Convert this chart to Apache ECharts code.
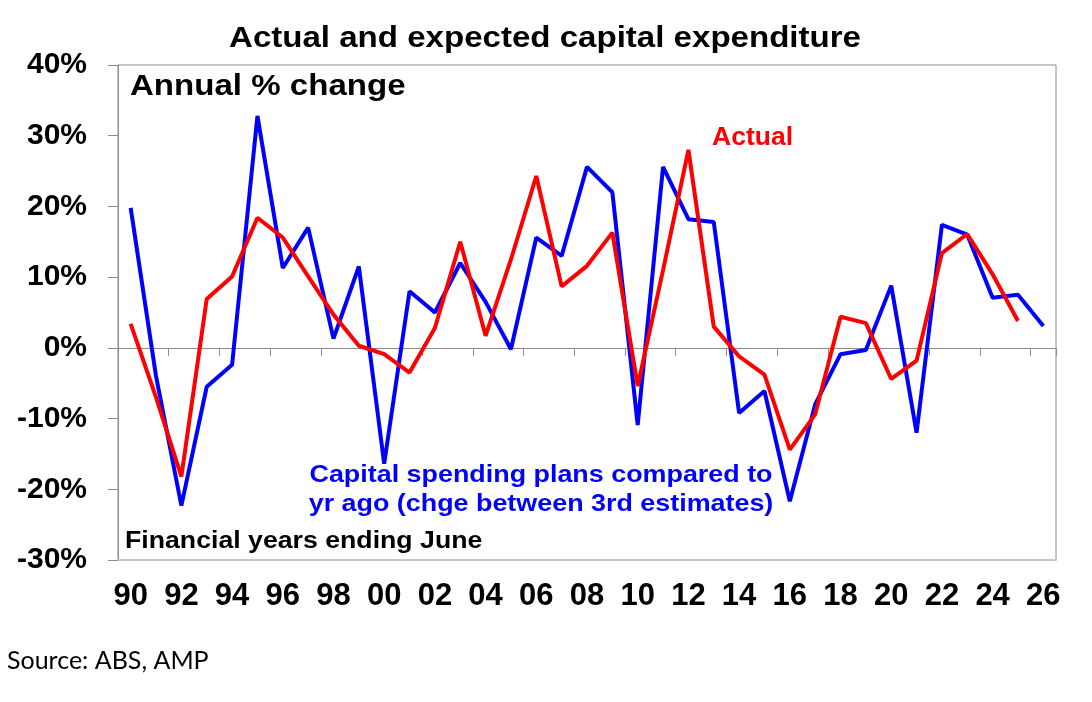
<!DOCTYPE html>
<html>
<head>
<meta charset="utf-8">
<script src="https://cdn.jsdelivr.net/npm/echarts@6/dist/echarts.min.js"></script>
<style>
  html, body { margin: 0; padding: 0; background: #fff; }
  #chart { width: 1092px; height: 702px; }
</style>
</head>
<body>
<div id="chart"></div>
<script>
// financial years ending June
const years = ['90', '91', '92', '93', '94', '95', '96', '97', '98', '99',
  '00', '01', '02', '03', '04', '05', '06', '07', '08', '09',
  '10', '11', '12', '13', '14', '15', '16', '17', '18', '19',
  '20', '21', '22', '23', '24', '25', '26'];

// capital spending plans vs yr ago (3rd estimates), % change
const plans = [19.8, -4, -22.3, -5.5, -2.4, 32.8, 11.3, 17.0, 1.3, 11.5,
  -16.4, 8.0, 5.0, 12.0, 6.5, -0.2, 15.6, 13.0, 25.6, 22.0,
  -10.9, 25.6, 18.2, 17.8, -9.2, -6.1, -21.7, -8.0, -0.9, -0.3,
  8.8, -12.0, 17.4, 16.0, 7.1, 7.5, 3.1];

// actual capex, annual % change
const actual = [3.4, -7, -18.2, 6.9, 10.1, 18.4, 15.6, 10.1, 4.7, 0.3,
  -0.9, -3.5, 2.8, 15.0, 1.7, 12.5, 24.3, 8.7, 11.6, 16.3,
  -5.4, 11.0, 28.0, 3.0, -1.2, -3.8, -14.4, -9.4, 4.4, 3.5,
  -4.4, -1.8, 13.4, 16.1, 10.4, 3.8, null];

const yTicks = [-30, -20, -10, 0, 10, 20, 30, 40];

const font = "'Liberation Sans', Arial, sans-serif";

// the original's lettering is a little wider than Arial, so stretch it
function label(text, x, y, size, color, opts) {
  opts = opts || {};
  return {
    type: 'text',
    x: x,
    y: y,
    scaleX: opts.sx || 1.13,
    style: {
      text: text,
      font: `bold ${size}px ${font}`,
      fill: color,
      align: opts.align || 'left',
      verticalAlign: 'top',
      lineHeight: opts.lh,
    },
  };
}

const chart = echarts.init(document.getElementById('chart'), null, { renderer: 'canvas' });

const options = {
  animation: false,
  grid: {
    left: 118,
    right: 36,
    top: 65,
    bottom: 142,
    show: true,
    borderColor: '#8c8c8c',
    borderWidth: 1,
  },
  xAxis: [
    {
      // line through zero with the tick marks
      type: 'category',
      data: years,
      boundaryGap: true,
      axisLine: { onZero: true, lineStyle: { color: '#8c8c8c', width: 1 } },
      axisTick: { show: true, interval: 1, length: 8, lineStyle: { color: '#8c8c8c' } },
      axisLabel: { show: false },
      splitLine: { show: false },
    },
    {
      // bottom edge carrying the year labels
      type: 'category',
      data: years,
      position: 'bottom',
      boundaryGap: true,
      axisLine: { onZero: false, lineStyle: { color: '#c8c8c8', width: 2 } },
      axisTick: { show: false },
      axisLabel: {
        interval: 1,
        margin: 21,
        fontFamily: font,
        fontSize: 31,
        fontWeight: 'bold',
        color: '#000',
      },
    },
  ],
  yAxis: {
    type: 'value',
    min: yTicks[0],
    max: yTicks[yTicks.length - 1],
    interval: 10,
    axisLine: { show: true, lineStyle: { color: '#8c8c8c', width: 1 } },
    axisTick: { show: true, length: 10, lineStyle: { color: '#8c8c8c' } },
    splitLine: { show: false },
    axisLabel: {
      formatter: '{value}%',
      margin: 31,
      fontFamily: font,
      fontSize: 30,
      fontWeight: 'bold',
      color: '#000',
    },
  },
  series: [
    {
      name: 'Capital spending plans',
      type: 'line',
      xAxisIndex: 0,
      data: plans,
      symbol: 'none',
      lineStyle: { color: '#0000ff', width: 4 },
      z: 3,
    },
    {
      name: 'Actual',
      type: 'line',
      xAxisIndex: 0,
      data: actual,
      symbol: 'none',
      lineStyle: { color: '#ff0000', width: 4 },
      z: 4,
    },
  ],
  graphic: [
    label('Actual and expected capital expenditure', 545, 24, 29, '#000', { align: 'center', sx: 1.14 }),
    label('Annual % change', 130, 72, 29, '#000', { sx: 1.14 }),
    label('Actual', 712, 126, 25, '#ff0000', { sx: 1.06 }),
    label('Capital spending plans compared to\nyr ago (chge between 3rd estimates)', 541, 461, 24, '#0000ff',
      { align: 'center', sx: 1.12, lh: 29 }),
    label('Financial years ending June', 125, 530, 23, '#000', { sx: 1.16 }),
    {
      type: 'text',
      x: 7,
      y: 648,
      style: {
        text: 'Source: ABS, AMP',
        font: "25px Lato, 'Open Sans', sans-serif",
        fill: '#000',
        verticalAlign: 'top',
      },
    },
  ],
};

chart.setOption(options);
</script>
</body>
</html>
